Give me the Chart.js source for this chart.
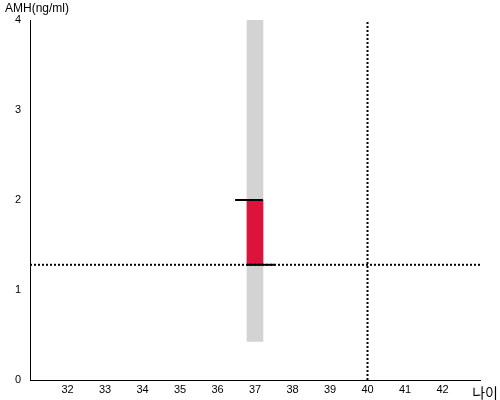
<!DOCTYPE html>
<html lang="ko">
<head>
	<meta charset="UTF-8">
	<title>AMH</title>
	<script src="https://cdn.jsdelivr.net/npm/chart.js@4.4.1/dist/chart.umd.min.js"></script>
	<style>
		html,body{margin:0;padding:0;background:#fff;}
		.box{width:500px;height:400px;}
	</style>
</head>
<body>
	<div class="box">
		<canvas id="myChart" width="500" height="400"></canvas>
	</div>
<script>
	// data
	var ages = [37];              // 나이
	var bandRange = [[0.43, 4]];  // grey band
	var amhRange = [[1.28, 2.0]]; // red bar
	var topLineX = [36.47, 37.21], topLineY = 2.0;
	var lowLineX = [36.79, 37.53], lowLineY = 1.28;
	var refAge = 40, refAmh = 1.28;
	var xMin = 31, xMax = 43, yMin = 0, yMax = 4;

	var font = {family: "'Liberation Sans', Arial, sans-serif", size: 11};

	// axis captions
	var captions = {
		id: 'captions',
		afterDraw: function(chart){
			var c = chart.ctx;
			c.save();
			c.fillStyle = '#000';
			c.font = "12px 'Liberation Sans', Arial, sans-serif";
			c.textBaseline = 'top';
			c.textAlign = 'left';
			c.fillText('AMH(ng/ml)', 5, 3);
			c.font = "14px 'Noto Sans CJK KR', sans-serif";
			c.textAlign = 'right';
			c.textBaseline = 'bottom';
			c.fillText('나이', 498, 400);
			c.restore();
		}
	};

	var ctx = document.getElementById("myChart");
	var myChart = new Chart(ctx, {
		type: 'bar',
		data: {
			datasets: [{
				type: 'line',
				data: [{x: topLineX[0], y: topLineY}, {x: topLineX[1], y: topLineY}],
				borderColor: '#000', borderWidth: 2, pointRadius: 0
			},{
				type: 'line',
				data: [{x: lowLineX[0], y: lowLineY}, {x: lowLineX[1], y: lowLineY}],
				borderColor: '#000', borderWidth: 2, pointRadius: 0
			},{
				type: 'line',
				data: [{x: xMin, y: refAmh}, {x: xMax, y: refAmh}],
				borderColor: '#000', borderWidth: 2, borderDash: [2, 2], pointRadius: 0
			},{
				type: 'line',
				data: [{x: refAge, y: yMin}, {x: refAge, y: yMax}],
				borderColor: '#000', borderWidth: 2, borderDash: [2, 2], pointRadius: 0
			},{
				data: ages.map(function(a, i){ return {x: a, y: amhRange[i]}; }),
				backgroundColor: '#dc143c', barThickness: 16, grouped: false
			},{
				data: ages.map(function(a, i){ return {x: a, y: bandRange[i]}; }),
				backgroundColor: '#d3d3d3', barThickness: 16, grouped: false
			}]
		},
		options: {
			responsive: false,
			animation: false,
			layout: {padding: {left: 0, top: 20, right: 20, bottom: 0}},
			plugins: {legend: {display: false}, tooltip: {enabled: false}},
			scales: {
				x: {
					type: 'linear', min: xMin, max: xMax,
					offset: false,
					grid: {display: false, drawTicks: false},
					border: {display: true, color: '#000', width: 1},
					afterFit: function(s){ s.height = 20; },
					ticks: {
						stepSize: 1, color: '#000', font: font, padding: 3, maxRotation: 0,
						callback: function(v){ return (v === xMin || v === xMax) ? '' : v; }
					}
				},
				y: {
					min: yMin, max: yMax,
					grid: {display: false, drawTicks: false},
					border: {display: true, color: '#000', width: 1},
					afterFit: function(s){ s.width = 30; },
					ticks: {stepSize: 1, color: '#000', font: font, padding: 9}
				}
			}
		},
		plugins: [captions]
	});
</script>
</body>
</html>
